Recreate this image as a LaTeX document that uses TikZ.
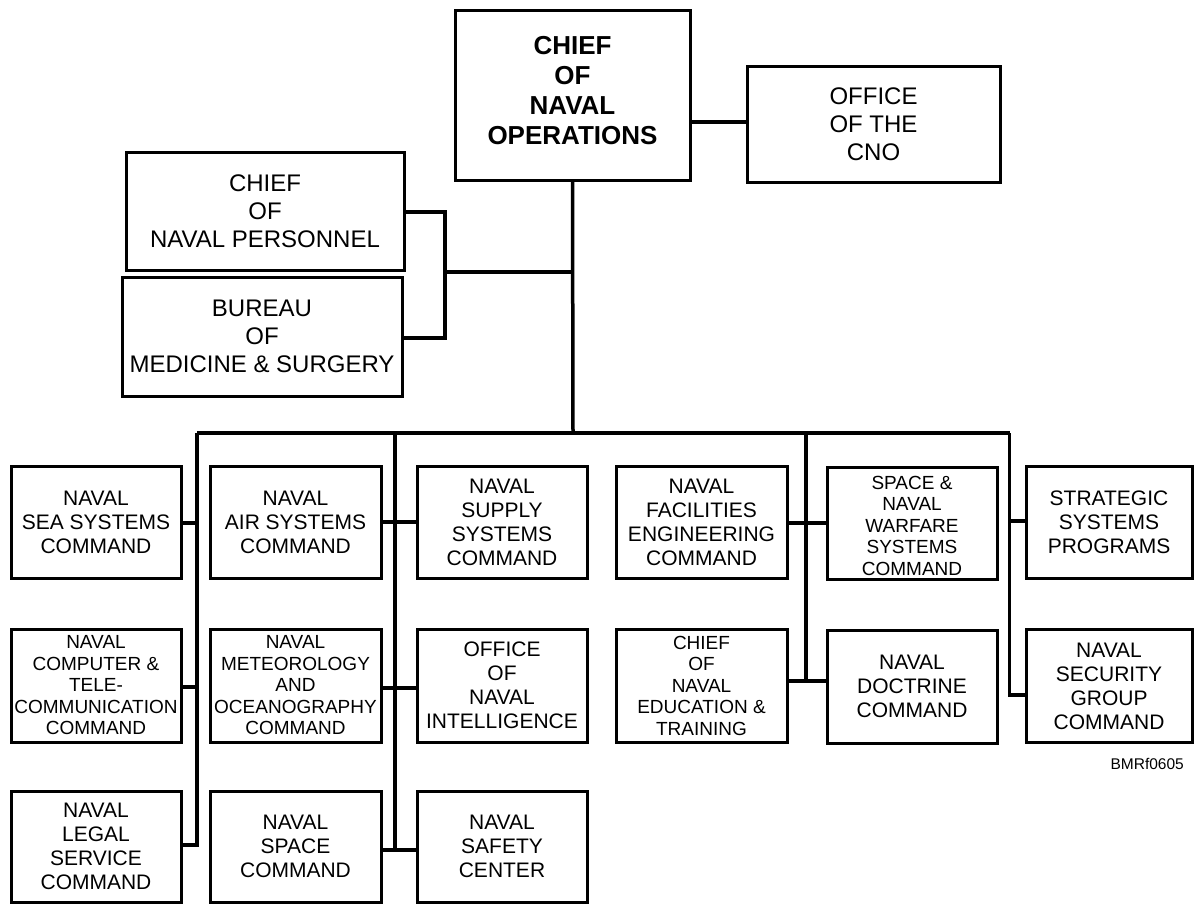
\documentclass[tikz,border=0pt]{standalone}
\usepackage{fontspec}
\setmainfont{Liberation Sans}
\begin{document}
\begin{tikzpicture}[x=1pt,y=-1pt,
  box/.style={draw, line width=3pt, inner sep=0pt, align=center, anchor=center},
  big/.style={font=\fontsize{24}{28}\selectfont},
  mid/.style={font=\fontsize{21}{24}\selectfont},
  small/.style={font=\fontsize{19}{21.5}\selectfont},
  wire/.style={line width=3.5pt},
  stub/.style={line width=4.5pt},
  rowA/.style={minimum height=112pt},
  rowB/.style={minimum height=113pt},
  rowC/.style={minimum height=111pt}]
\useasboundingbox (0,0) rectangle (1194,905);
% top
\node[box, minimum width=235pt, minimum height=170pt, font=\bfseries\fontsize{26}{30}\selectfont] (cno) at (572.5,95) {\raisebox{2pt}[\height][\depth]{\begin{tabular}{@{}c@{}}CHIEF\\OF\\NAVAL\\OPERATIONS\end{tabular}}};
\node[box, big, minimum width=253pt, minimum height=116pt] (off) at (873.5,124) {OFFICE\\OF THE\\CNO};
\node[box, big, minimum width=278pt, minimum height=118pt] (cnp) at (265,211) {CHIEF\\OF\\NAVAL PERSONNEL};
\node[box, big, minimum width=280pt, minimum height=119pt] (bum) at (262,336.5) {BUREAU\\OF\\MEDICINE \& SURGERY};
% column 1
\node[box, mid, rowA, minimum width=170pt] (a1) at (96,522) {NAVAL\\SEA SYSTEMS\\COMMAND};
\node[box, small, rowB, minimum width=170pt] (a2) at (96,685.5) {NAVAL\\COMPUTER \&\\TELE-\\COMMUNICATION\\COMMAND};
\node[box, mid, rowC, minimum width=170pt] (a3) at (96,846.5) {NAVAL\\LEGAL\\SERVICE\\COMMAND};
% column 2
\node[box, mid, rowA, minimum width=171pt] (b1) at (295.5,522) {NAVAL\\AIR SYSTEMS\\COMMAND};
\node[box, small, rowB, minimum width=171pt] (b2) at (295.5,685.5) {NAVAL\\METEOROLOGY\\AND\\OCEANOGRAPHY\\COMMAND};
\node[box, mid, rowC, minimum width=171pt] (b3) at (295.5,846.5) {NAVAL\\SPACE\\COMMAND};
% column 3
\node[box, mid, rowA, minimum width=170pt] (c1) at (502,522) {NAVAL\\SUPPLY\\SYSTEMS\\COMMAND};
\node[box, mid, rowB, minimum width=170pt] (c2) at (502,685.5) {OFFICE\\OF\\NAVAL\\INTELLIGENCE};
\node[box, mid, rowC, minimum width=170pt] (c3) at (502,846.5) {NAVAL\\SAFETY\\CENTER};
% column 4
\node[box, mid, rowA, minimum width=171pt] (d1) at (701.5,522) {NAVAL\\FACILITIES\\ENGINEERING\\COMMAND};
\node[box, small, rowB, minimum width=171pt] (d2) at (701.5,685.5) {CHIEF\\OF\\NAVAL\\EDUCATION \&\\TRAINING};
% column 5
\node[box, small, rowA, minimum width=170pt] (e1) at (912,523) {\raisebox{-5pt}[\height][\depth]{\begin{tabular}{@{}c@{}}SPACE \&\\NAVAL\\WARFARE\\SYSTEMS\\COMMAND\end{tabular}}};
\node[box, mid, rowB, minimum width=170pt] (e2) at (912,686.5) {NAVAL\\DOCTRINE\\COMMAND};
% column 6
\node[box, mid, rowA, minimum width=166pt] (f1) at (1109,522) {STRATEGIC\\SYSTEMS\\PROGRAMS};
\node[box, mid, rowB, minimum width=166pt] (f2) at (1109,686) {NAVAL\\SECURITY\\GROUP\\COMMAND};
\node[font=\fontsize{15.5}{18}\selectfont, anchor=east, inner sep=0pt] (tag) at (1184,764) {BMRf0605};
% junction coordinates
\coordinate (bus) at (573,433);
\coordinate (busL) at (197,433);
\coordinate (busR) at (1009.5,433);
\coordinate (brk) at (445,272);
% connectors
\draw[wire] (cno.south) -- (bus);
\draw[wire] (busL) -- (busR);
\draw[stub] (cno.east |- 0,122) -- (off.west |- 0,122);
\draw[stub] (cnp.east |- 0,212) -| (brk) |- (bum.east |- 0,338);
\draw[stub] (brk) -- (brk -| bus);
% x=197 branch
\draw[wire] (busL) -- (197,845) -- (a3.east |- 0,845);
\draw[stub] (a1.east |- 0,523) -- (197,523);
\draw[stub] (a2.east |- 0,687) -- (197,687);
% x=395 branch
\draw[wire] (395,433) -- (395,850);
\draw[stub] (b1.east |- 0,522) -- (c1.west |- 0,522);
\draw[stub] (b2.east |- 0,688) -- (c2.west |- 0,688);
\draw[stub] (b3.east |- 0,850) -- (c3.west |- 0,850);
% x=806 branch
\draw[wire] (806,433) -- (806,681);
\draw[stub] (d1.east |- 0,523) -- (e1.west |- 0,523);
\draw[stub] (d2.east |- 0,681) -- (e2.west |- 0,681);
% x=1009.5 branch
\draw[wire] (busR) -- (1009.5,695) -- (f2.west |- 0,695);
\draw[stub] (1009.5,521) -- (f1.west |- 0,521);
\end{tikzpicture}
\end{document}
